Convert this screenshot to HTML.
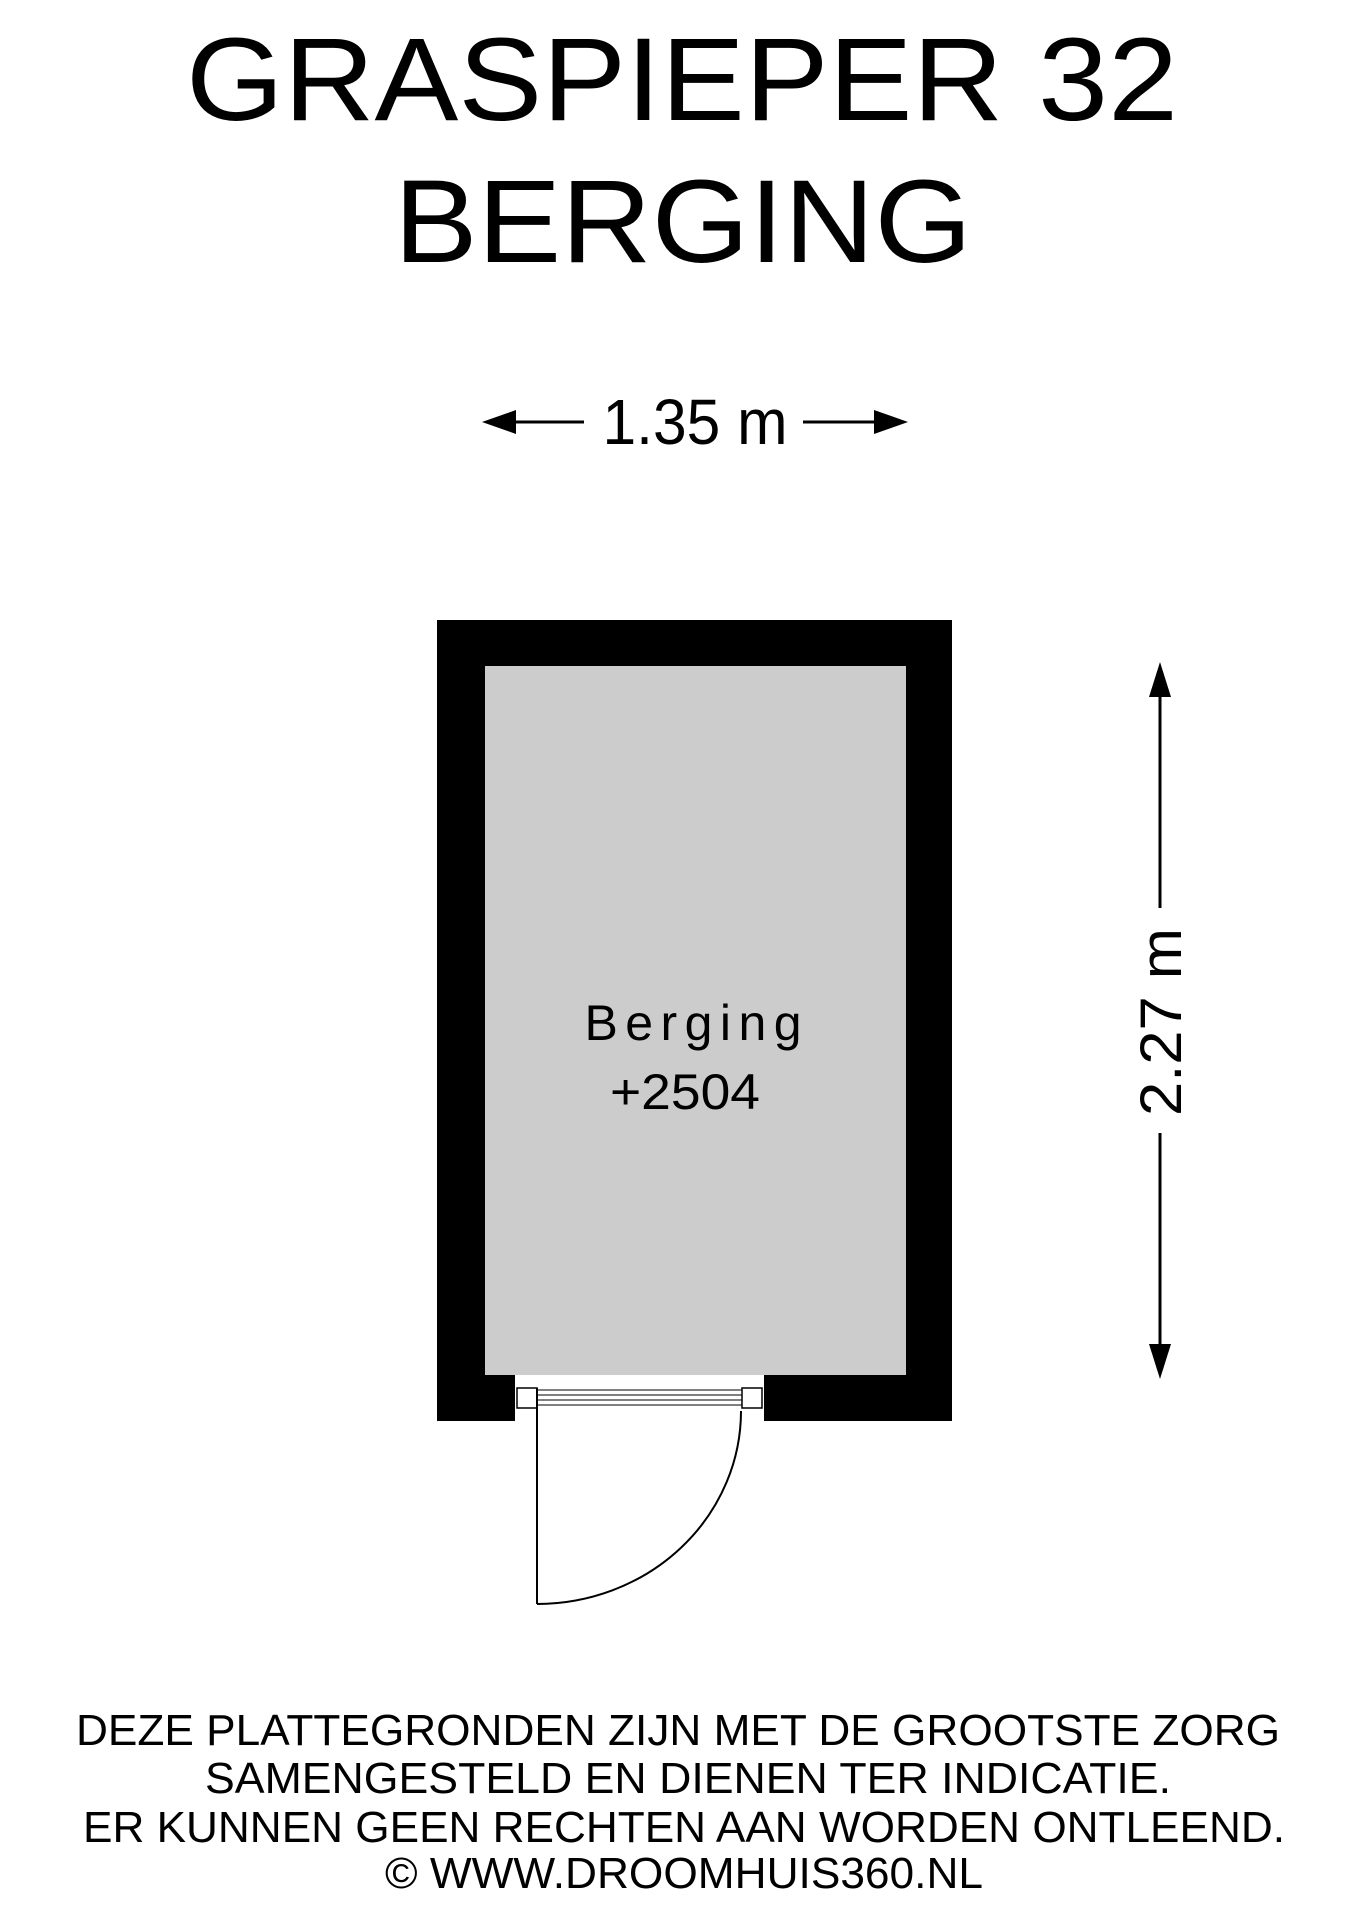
<!DOCTYPE html>
<html><head><meta charset="utf-8"><style>html,body{margin:0;padding:0;background:#fff}svg{display:block}</style></head>
<body>
<svg width="1358" height="1920" viewBox="0 0 1358 1920" xmlns="http://www.w3.org/2000/svg" font-family="Liberation Sans, sans-serif">
<rect width="1358" height="1920" fill="#fff"/>
<text x="682" y="120" font-size="118" text-anchor="middle" textLength="992" lengthAdjust="spacingAndGlyphs">GRASPIEPER 32</text>
<text x="683" y="262" font-size="118" text-anchor="middle" textLength="578" lengthAdjust="spacingAndGlyphs">BERGING</text>
<!-- horizontal dimension -->
<line x1="504" y1="422" x2="584" y2="422" stroke="#000" stroke-width="3"/>
<polygon points="482,422 516,410 516,434" fill="#000"/>
<line x1="803" y1="422" x2="886" y2="422" stroke="#000" stroke-width="3"/>
<polygon points="908,422 874,410 874,434" fill="#000"/>
<text x="695" y="444" font-size="64" text-anchor="middle" textLength="185" lengthAdjust="spacingAndGlyphs">1.35 m</text>
<!-- room -->
<rect x="437" y="620" width="515" height="801" fill="#000"/>
<rect x="485" y="666" width="421" height="709" fill="#ccc"/>
<rect x="515" y="1375" width="249" height="47" fill="#fff"/>
<rect x="517" y="1388" width="20" height="20" fill="#fff" stroke="#000" stroke-width="1.5"/>
<rect x="742" y="1388" width="20" height="20" fill="#fff" stroke="#000" stroke-width="1.5"/>
<line x1="537" y1="1390" x2="742" y2="1390" stroke="#000" stroke-width="1"/>
<line x1="537" y1="1395" x2="742" y2="1395" stroke="#000" stroke-width="1"/>
<line x1="537" y1="1400" x2="742" y2="1400" stroke="#000" stroke-width="1"/>
<line x1="537" y1="1405" x2="742" y2="1405" stroke="#000" stroke-width="1"/>
<line x1="537" y1="1388" x2="537" y2="1604" stroke="#000" stroke-width="2"/>
<path d="M537,1604 A204,193 0 0 0 741,1411" fill="none" stroke="#000" stroke-width="2"/>
<text x="693" y="1040" font-size="50" text-anchor="middle" textLength="217" lengthAdjust="spacing">Berging</text>
<text x="685" y="1109" font-size="50" text-anchor="middle" textLength="150" lengthAdjust="spacingAndGlyphs">+2504</text>
<!-- vertical dimension -->
<line x1="1160" y1="690" x2="1160" y2="908" stroke="#000" stroke-width="3"/>
<line x1="1160" y1="1133" x2="1160" y2="1352" stroke="#000" stroke-width="3"/>
<polygon points="1160,662 1149,697 1171,697" fill="#000"/>
<polygon points="1160,1379 1149,1344 1171,1344" fill="#000"/>
<text transform="translate(1181,1022) rotate(-90)" x="0" y="0" font-size="58" text-anchor="middle" textLength="188" lengthAdjust="spacingAndGlyphs">2.27 m</text>
<!-- footer -->
<g font-size="44" text-anchor="middle">
<text x="678" y="1745" textLength="1204" lengthAdjust="spacingAndGlyphs">DEZE PLATTEGRONDEN ZIJN MET DE GROOTSTE ZORG</text>
<text x="688" y="1793" textLength="966" lengthAdjust="spacingAndGlyphs">SAMENGESTELD EN DIENEN TER INDICATIE.</text>
<text x="684" y="1842" textLength="1202" lengthAdjust="spacingAndGlyphs">ER KUNNEN GEEN RECHTEN AAN WORDEN ONTLEEND.</text>
<text x="684" y="1888" textLength="598" lengthAdjust="spacingAndGlyphs">© WWW.DROOMHUIS360.NL</text>
</g>
</svg>
</body></html>
